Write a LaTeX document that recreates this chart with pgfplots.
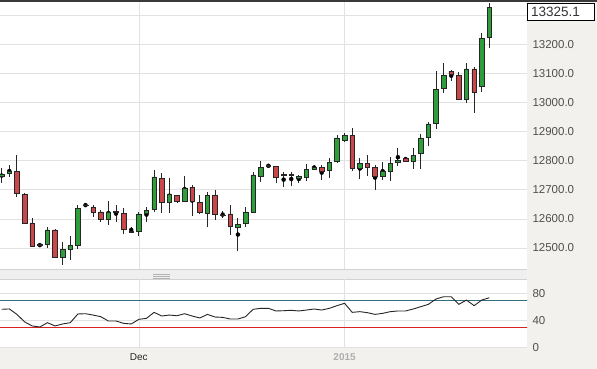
\documentclass[border=0pt]{standalone}
\usepackage{fontspec}
\setmainfont{Liberation Sans}
\usepackage{pgfplots}
\pgfplotsset{compat=1.18}
\usepackage{pgfplotstable}

\definecolor{panel}{HTML}{F2F1EE}
\definecolor{stripc}{HTML}{EFEFEF}
\definecolor{gridc}{HTML}{E2E2E2}
\definecolor{cgreen}{HTML}{2E9E3A}
\definecolor{cred}{HTML}{C9474B}
\definecolor{tickc}{HTML}{505050}
\definecolor{topc}{HTML}{3A3A3A}
\definecolor{obline}{HTML}{2F6F80}
\definecolor{rsired}{RGB}{215,35,35}

\pgfplotstableread{
k o h l c
0 12747 12775 12723 12754
1 12757 12785 12744 12764
2 12764 12819 12675 12689
3 12685 12689 12586 12586
4 12586 12603 12503 12507
5 12512 12517 12503 12510
6 12514 12572 12500 12562
7 12562 12565 12466 12469
8 12469 12520 12442 12496
9 12496 12541 12459 12510
10 12510 12648 12496 12637
11 12646 12654 12641 12648
12 12641 12648 12606 12624
13 12624 12630 12589 12600
14 12600 12661 12579 12624
15 12623 12648 12589 12625
16 12620 12637 12548 12565
17 12556 12572 12553 12555
18 12558 12624 12541 12617
19 12620 12641 12589 12630
20 12634 12768 12624 12744
21 12740 12757 12620 12658
22 12658 12740 12620 12685
23 12682 12682 12654 12661
24 12661 12747 12658 12706
25 12709 12716 12610 12661
26 12658 12682 12617 12624
27 12620 12692 12572 12682
28 12682 12699 12596 12617
29 12614 12627 12603 12613
30 12617 12648 12545 12576
31 12572 12603 12490 12582
32 12586 12641 12572 12624
33 12624 12761 12624 12751
34 12747 12799 12727 12778
35 12784 12785 12780 12781
36 12781 12781 12723 12744
37 12752 12761 12709 12750
38 12753 12761 12713 12751
39 12740 12751 12723 12746
40 12744 12788 12730 12771
41 12771 12785 12768 12778
42 12778 12785 12733 12764
43 12768 12809 12740 12795
44 12799 12888 12792 12878
45 12871 12895 12864 12888
46 12888 12912 12764 12775
47 12775 12809 12737 12792
48 12792 12819 12747 12778
49 12778 12785 12699 12747
50 12747 12795 12733 12764
51 12764 12812 12730 12792
52 12795 12843 12781 12802
53 12809 12812 12799 12799
54 12799 12843 12771 12819
55 12826 12891 12771 12878
56 12881 12933 12850 12926
57 12929 13108 12909 13046
58 13049 13135 13032 13094
59 13108 13111 13073 13097
60 13094 13104 13008 13012
61 13012 13135 12998 13115
62 13115 13121 12963 13036
63 13056 13238 13036 13221
64 13224 13342 13187 13325.1
}\ohlc

\pgfplotstableread{
k r
0 56.5
1 57
2 49
3 38
4 32
5 30.4
6 36.8
7 32
8 34.9
9 36.8
10 49.6
11 50
12 48
13 45.6
14 39.3
15 39.3
16 35.8
17 34.9
18 41.7
19 43.2
20 52
21 46.6
22 48
23 47
24 50
25 46.6
26 43.7
27 49
28 45.1
29 44.6
30 42.2
31 42.2
32 45.6
33 56.5
34 57.9
35 57.9
36 54
37 54.4
38 55
39 54
40 55.4
41 56.9
42 55.4
43 57.9
44 61.8
45 65.3
46 52
47 53
48 51.5
49 49
50 50.5
51 53
52 54
53 54
54 56.9
55 60.3
56 63.8
57 71.6
58 75
59 75
60 63.8
61 70.1
62 61.8
63 70.1
64 73.5
}\rsi

\pgfplotsset{
  common/.style={
    scale only axis, width=527pt,
    xmin=-0.223, xmax=68.94,
    axis line style={draw=none},
    major tick length=0pt,
    grid style={gridc, line width=0.7pt},
    tick label style={font=\fontsize{11.5}{13}\selectfont, text=tickc},
    /pgf/number format/assume math mode=true,
    scaled y ticks=false,
    yticklabel pos=right,
    yticklabel style={anchor=west, xshift=2pt},
  }
}

\begin{document}
\begin{tikzpicture}
\fill[panel] (0pt,0pt) rectangle (597pt,369pt);
\fill[white] (0pt,100pt) rectangle (527pt,367pt);
\fill[stripc] (0pt,90pt) rectangle (527pt,100pt);
\fill[white] (0pt,21.3pt) rectangle (527pt,89.7pt);
\draw[gray!35, line width=0.6pt] (0pt,100pt) -- (527pt,100pt);
\draw[gray!35, line width=0.6pt] (0pt,89.7pt) -- (527pt,89.7pt);
\draw[gray!35, line width=0.6pt] (0pt,21.3pt) -- (527pt,21.3pt);
\draw[line width=1.6pt, topc] (0pt,368.2pt) -- (597pt,368.2pt);
\foreach \yy in {94.3,92.7,91.1}{\draw[gray!60, line width=0.5pt] (153.3pt,\yy pt) -- (170pt,\yy pt);}

% main axis: grid + wicks
\begin{axis}[common, at={(0pt,100pt)}, anchor=south west, height=267pt,
  ymin=12428, ymax=13345,
  ytick={12500,12600,...,13200},
  extra y ticks={13300}, extra y tick labels={},
  extra y tick style={ymajorgrids=true},
  /pgf/number format/fixed, /pgf/number format/fixed zerofill,
  /pgf/number format/precision=1, /pgf/number format/1000 sep={},
  xtick={18,45}, xticklabels={}, xmajorgrids, ymajorgrids]
\addplot[only marks, mark=none,
  error bars/.cd, y dir=both, y explicit,
  error bar style={draw=black!85, line width=0.9pt}, error mark=none]
  table[x=k, y expr={(\thisrow{h}+\thisrow{l})/2},
        y error expr={(\thisrow{h}-\thisrow{l})/2}] {\ohlc};
\end{axis}

% candle bodies
\begin{axis}[common, at={(0pt,100pt)}, anchor=south west, height=267pt,
  ymin=12428, ymax=13345, hide axis,
  ybar stacked, bar width=0.6]
\addplot[draw=none, fill=none] table[x=k, y expr={min(\thisrow{o},\thisrow{c})}] {\ohlc};
\addplot[draw=black!85, fill=cgreen, line width=0.6pt] table[x=k, y expr={max(\thisrow{c}-\thisrow{o},0)}] {\ohlc};
\addplot[draw=black!85, fill=cred, line width=0.6pt] table[x=k, y expr={max(\thisrow{o}-\thisrow{c},0)}] {\ohlc};
\end{axis}

% RSI panel
\begin{axis}[common, at={(0pt,21.3pt)}, anchor=south west, height=68.4pt,
  ymin=0, ymax=100.6,
  ytick={0,40,80}, ymajorgrids, xmajorgrids,
  xtick={18,45},
  xticklabels={{\textcolor{black!85}{Dec}},{\textcolor{black!32}{\textbf{2015}}}},
  xticklabel style={font=\fontsize{10}{12}\selectfont, anchor=north, yshift=-2pt}]
\addplot[color=obline, line width=0.9pt, mark=none] coordinates {(-1,70) (70,70)};
\addplot[draw=none, fill=rsired, mark=none] coordinates {(-1,29.1) (70,29.1) (70,30.9) (-1,30.9)} --cycle;
\addplot[color=black!85, line width=0.9pt, mark=none] table[x=k, y=r] {\rsi};
\end{axis}

% last value tag
\draw[fill=white, draw=black, line width=0.8pt] (527.7pt,348.3pt) rectangle (594pt,365.7pt);
\node[anchor=west, inner sep=0pt, font=\fontsize{13.5}{15}\selectfont, text=black!80] at (531pt,357pt) {13325.1};

\pgfresetboundingbox
\useasboundingbox (0pt,0pt) rectangle (597pt,369pt);
\end{tikzpicture}
\end{document}
